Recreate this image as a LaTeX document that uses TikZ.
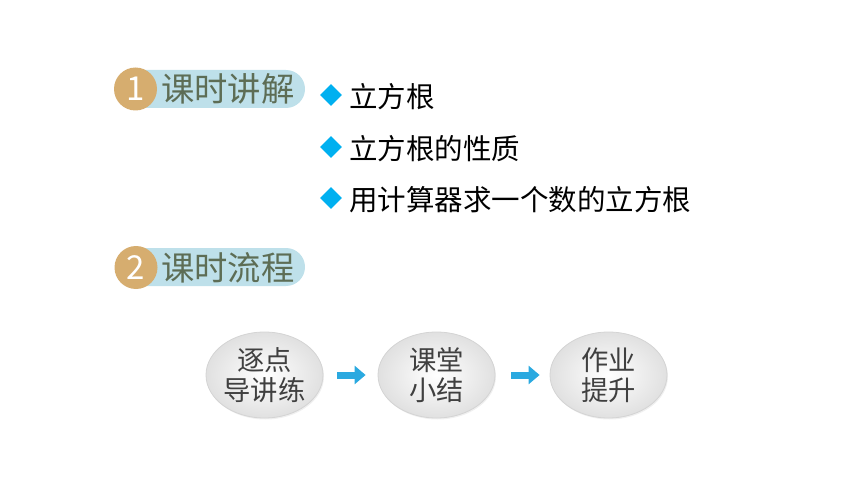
\documentclass[tikz,border=0pt]{standalone}
\usepackage{fontspec}
\setmainfont{Noto Sans CJK SC}
\usetikzlibrary{shapes.geometric,arrows.meta,shadows}
\definecolor{pillblue}{HTML}{BEE0EA}
\definecolor{badgetan}{HTML}{D6AD6F}
\definecolor{headtxt}{HTML}{5D6D55}
\definecolor{bulletblue}{HTML}{00B0F0}
\definecolor{arrowblue}{HTML}{2AA9E0}
\definecolor{ellborder}{HTML}{D4D4D4}
\tikzset{
  pill/.style={fill=pillblue, rounded corners=19pt},
  badge/.style={circle, fill=badgetan, minimum size=43pt, inner sep=0pt, text=white, font=\fontsize{33}{33}\selectfont},
  headtext/.style={anchor=west, inner sep=0pt, text=headtxt, font=\fontsize{33.3}{33}\selectfont},
  bulletmark/.style={diamond, fill=bulletblue, minimum size=22pt, inner sep=0pt},
  bullettext/.style={anchor=west, inner sep=0pt, text=black, font=\fontsize{28.5}{28}\selectfont},
  stepell/.style={ellipse, minimum width=117pt, minimum height=86pt, inner sep=0pt, draw=ellborder, line width=0.8pt,
    inner color=white, outer color=black!12, align=center, text=black!75,
    font=\fontsize{27.3}{29.5}\selectfont, drop shadow={opacity=0.12, shadow xshift=1pt, shadow yshift=-1.5pt}},
  flowarrow/.style={draw=arrowblue, line width=7pt, -{Triangle[length=11pt,width=18pt]}}
}
\begin{document}
\begin{tikzpicture}[x=1pt,y=-1pt]
\useasboundingbox (0,0) rectangle (860,484);
% heading 1
\fill[pill] (125,70) rectangle (305,108);
\node[badge] (b1) at (135.5,89) {1};
\node[headtext] (h1) at (161,89) {课时讲解};
% bullets
\node[bulletmark] (d1) at (331,95) {};
\node[bullettext] (t1) at (349,97) {立方根};
\node[bulletmark] (d2) at (331,147) {};
\node[bullettext] (t2) at (349,149) {立方根的性质};
\node[bulletmark] (d3) at (331,198) {};
\node[bullettext] (t3) at (349,200) {用计算器求一个数的立方根};
% heading 2
\fill[pill] (125,248) rectangle (305,286);
\node[badge] (b2) at (136,267.5) {2};
\node[headtext] (h2) at (161,268) {课时流程};
% flow
\node[stepell] (e1) at (264.5,375) {逐点\\导讲练};
\node[stepell] (e2) at (436.5,375) {课堂\\小结};
\node[stepell] (e3) at (608.5,375) {作业\\提升};
\draw[flowarrow] ([xshift=14pt]e1.east) -- ([xshift=-12pt]e2.west);
\draw[flowarrow] ([xshift=16pt]e2.east) -- ([xshift=-10pt]e3.west);
\end{tikzpicture}
\end{document}
